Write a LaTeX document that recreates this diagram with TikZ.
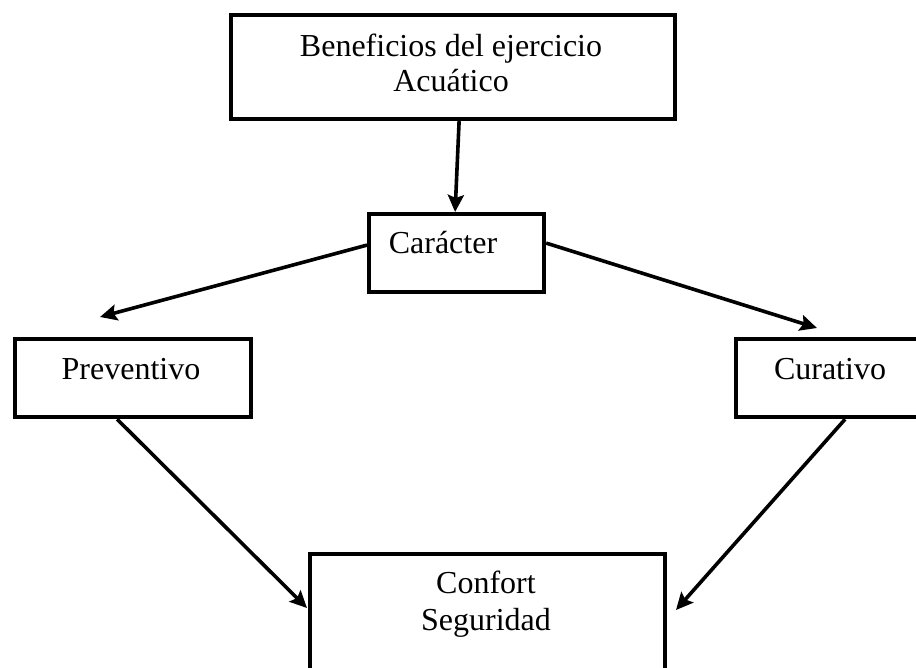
\documentclass[tikz,border=0pt]{standalone}
\usepackage{fontspec}
\setmainfont{Liberation Serif}
\usetikzlibrary{arrows.meta}
\begin{document}
\begin{tikzpicture}[x=1pt,y=-1pt,
  box/.style={draw, rectangle, line width=4.2pt, inner sep=0pt, anchor=north west},
  lbl/.style={anchor=base, inner sep=0pt, font=\fontsize{32}{36}\selectfont},
  arr/.style={line width=3.6pt, -{Stealth[length=17pt,width=16pt,inset=3pt]}}]
\clip (0,0) rectangle (916,668);
\fill[white] (0,0) rectangle (916,668);
% boxes
\node[box, minimum width=444pt, minimum height=104pt] (top) at (229,13) {};
\node[box, minimum width=175pt, minimum height=78pt] (car) at (367,212) {};
\node[box, minimum width=236pt, minimum height=78pt] (prev) at (13,337) {};
\node[box, minimum width=192pt, minimum height=78pt] (cur) at (734,337) {};
\node[box, minimum width=355pt, minimum height=168pt] (conf) at (308,552) {};
% texts
\node[lbl] (t1) at (451,57) {Beneficios del ejercicio};
\node[lbl] (t2) at (451,92) {Acuático};
\node[lbl] (tc) at (443,254) {Carácter};
\node[lbl] (tp) at (131,379) {Preventivo};
\node[lbl] (tu) at (830,379) {Curativo};
\node[lbl] (tf) at (486,593) {Confort};
\node[lbl] (ts) at (486,630) {Seguridad};
% free ends
\coordinate (pe) at (100,317);
\coordinate (ce) at (817,328);
\coordinate (fl) at (307,608);
\coordinate (fr) at (676,610);
% connectors
\draw[arr] ([xshift=6pt]top.south) -- ([xshift=-1.5pt]car.north);
\draw[arr] ([yshift=8pt]car.west) -- (pe);
\draw[arr] ([yshift=10pt]car.east) -- (ce);
\draw[arr] ([xshift=-16pt]prev.south) -- (fl);
\draw[arr] ([xshift=13pt]cur.south) -- (fr);
\end{tikzpicture}
\end{document}
